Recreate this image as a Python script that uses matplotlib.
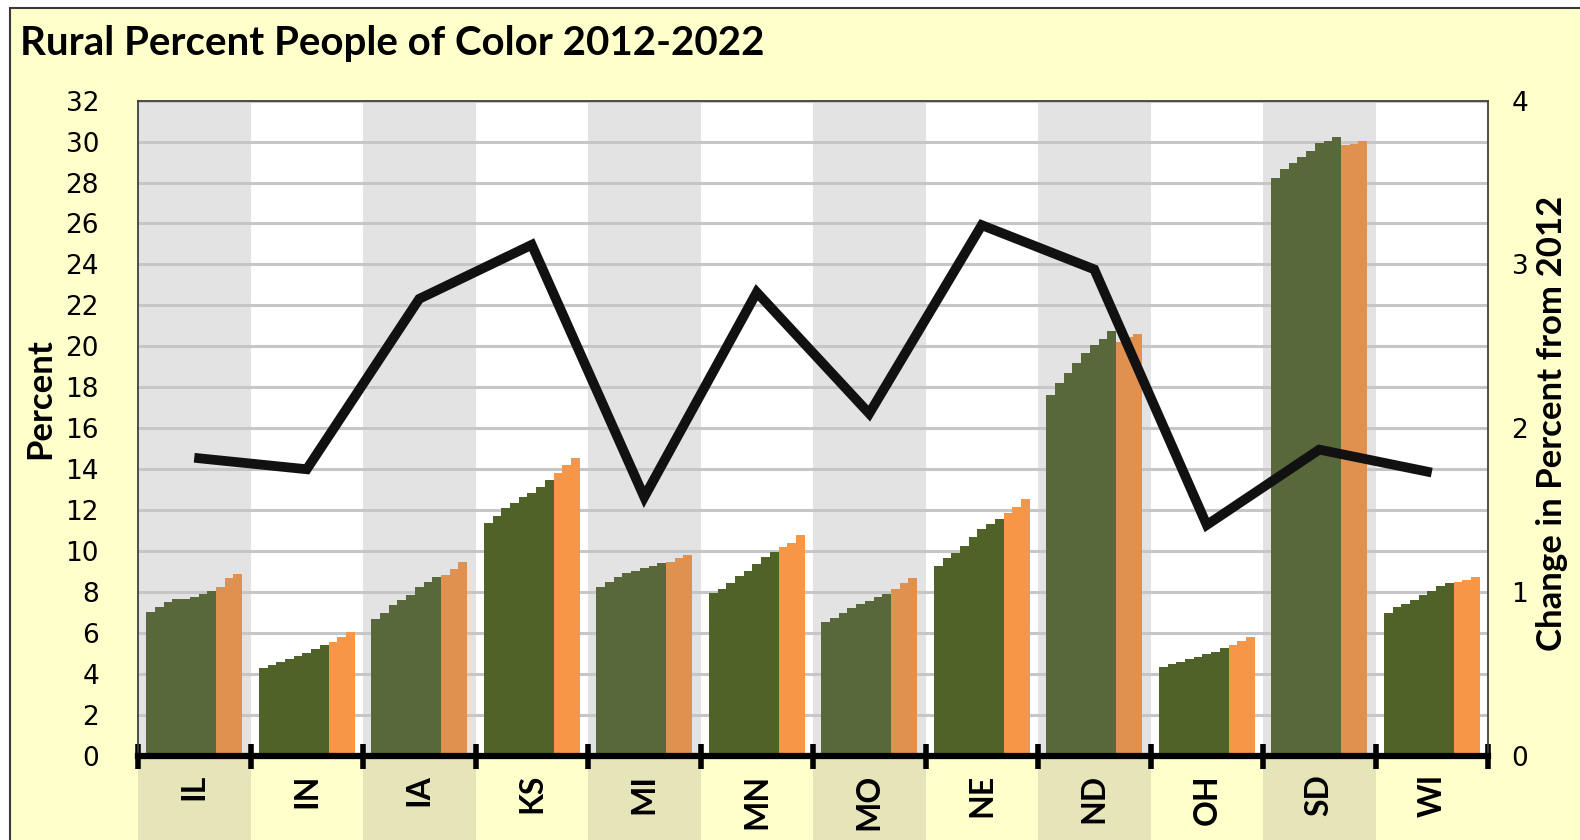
import matplotlib
matplotlib.use("Agg")
import matplotlib.pyplot as plt
import matplotlib.transforms as mtransforms
from matplotlib.patches import Rectangle
import numpy as np

# ---------------- data ----------------
states = ["IL", "IN", "IA", "KS", "MI", "MN", "MO", "NE", "ND", "OH", "SD", "WI"]
years = list(range(2012, 2023))
first_covid_year = 2020  # bars from this year on are orange

IL = [7.05, 7.29, 7.53, 7.65, 7.65, 7.78, 7.91, 8.07, 8.27, 8.68, 8.87]
IN = [4.31, 4.46, 4.61, 4.73, 4.86, 5.04, 5.21, 5.42, 5.58, 5.80, 6.03]
IA = [6.67, 7.00, 7.37, 7.62, 7.86, 8.24, 8.51, 8.75, 8.84, 9.12, 9.49]
KS = [11.39, 11.72, 12.09, 12.37, 12.63, 12.86, 13.12, 13.48, 13.83, 14.21, 14.54]
MI = [8.27, 8.51, 8.75, 8.92, 9.05, 9.17, 9.28, 9.41, 9.49, 9.65, 9.81]
MN = [7.97, 8.14, 8.46, 8.79, 9.05, 9.38, 9.73, 9.98, 10.19, 10.42, 10.79]
MO = [6.56, 6.75, 7.00, 7.21, 7.41, 7.57, 7.75, 7.91, 8.14, 8.43, 8.68]
NE = [9.28, 9.65, 9.93, 10.25, 10.71, 11.07, 11.33, 11.59, 11.85, 12.17, 12.53]
ND = [17.63, 18.23, 18.69, 19.17, 19.69, 20.07, 20.36, 20.77, 20.23, 20.44, 20.59]
OH = [4.36, 4.49, 4.60, 4.72, 4.85, 4.98, 5.09, 5.26, 5.42, 5.63, 5.80]
SD = [28.21, 28.65, 28.94, 29.23, 29.56, 29.92, 30.04, 30.24, 29.83, 29.88, 30.04]
WI = [7.00, 7.26, 7.42, 7.62, 7.86, 8.07, 8.30, 8.43, 8.51, 8.59, 8.75]

change_from_2012 = [1.82, 1.75, 2.79, 3.12, 1.58, 2.83, 2.09, 3.24, 2.97, 1.41, 1.87, 1.73]

pct_table = [IL, IN, IA, KS, MI, MN, MO, NE, ND, OH, SD, WI]

# ---------------- styling ----------------
W, H = 1580, 840
BG_YELLOW = "#ffffcc"
BAND_GREY = "#e3e3e3"
LABEL_TAN = "#e6e4b9"
GREEN = "#4f6228"
GREEN_SHADED = "#58683b"
ORANGE = "#f79646"
ORANGE_SHADED = "#e0914f"
TITLE_FONT = ["Lato", "DejaVu Sans"]
NUM_FONT = ["DejaVu Sans"]

fig = plt.figure(figsize=(W / 100, H / 100), dpi=100, facecolor="white")
fig.patches.append(Rectangle((10 / W, -0.01), 1.0, 1 - 8 / H + 0.01,
                             transform=fig.transFigure, facecolor=BG_YELLOW,
                             edgecolor="#3a3a3a", lw=1.5, zorder=-10))

ax_left, ax_right, ax_bottom, ax_top = 138, 1488, 756, 100.6
ax = fig.add_axes([ax_left / W, 1 - ax_bottom / H,
                   (ax_right - ax_left) / W, (ax_bottom - ax_top) / H])
ax.set_facecolor("white")
ax.set_xlim(-0.5, len(states) - 0.5)
ax.set_ylim(0, 32)

n_years = len(years)
bar_w = 0.0774
for i, vals in enumerate(pct_table):
    shaded = (i % 2 == 0)
    if shaded:
        ax.axvspan(i - 0.5, i + 0.5, color=BAND_GREY, lw=0, zorder=0.1)
    xs = [i + (j - (n_years - 1) / 2) * bar_w for j in range(n_years)]
    cols = []
    for y in years:
        if y >= first_covid_year:
            cols.append(ORANGE_SHADED if shaded else ORANGE)
        else:
            cols.append(GREEN_SHADED if shaded else GREEN)
    ax.bar(xs, vals, width=bar_w, color=cols, linewidth=0, zorder=2)

# label bands below the axis
trans = mtransforms.blended_transform_factory(ax.transData, ax.transAxes)
for i in range(len(states)):
    ax.add_patch(Rectangle((i - 0.5, -0.2), 1, 0.2, transform=trans,
                           facecolor=LABEL_TAN if i % 2 == 0 else BG_YELLOW,
                           lw=0, clip_on=False, zorder=0.05))

ax.set_yticks(range(0, 33, 2))
ax.grid(axis="y", color="#c6c6c6", lw=2.2)
ax.set_axisbelow(True)

for s in ["left", "top", "right"]:
    ax.spines[s].set_color("#404040")
    ax.spines[s].set_linewidth(1.3)
ax.spines["bottom"].set_color("black")
ax.spines["bottom"].set_linewidth(4.5)

ax.set_xticks(np.arange(-0.5, len(states), 1))
ax.tick_params(axis="x", which="major", direction="inout", length=18, width=4,
               color="black", labelbottom=False)
ax.set_xticks(range(len(states)), minor=True)
ax.set_xticklabels(states, minor=True, rotation=90, fontweight="bold",
                   fontsize=23, family=TITLE_FONT)
ax.tick_params(axis="x", which="minor", length=0, pad=13)
ax.tick_params(axis="y", length=0, pad=28, labelsize=19)
for lab in ax.get_yticklabels():
    lab.set_family(NUM_FONT)

ax2 = ax.twinx()
ax2.set_ylim(0, 4)
ax2.set_yticks(range(0, 5))
ax2.tick_params(axis="y", length=0, pad=17, labelsize=19)
for lab in ax2.get_yticklabels():
    lab.set_family(NUM_FONT)
for s in ax2.spines.values():
    s.set_visible(False)
ax2.plot(range(len(states)), change_from_2012, color="#111111", lw=7,
         solid_joinstyle="miter", solid_capstyle="butt", zorder=5)

fig.text(20 / W, 1 - 44 / H, "Rural Percent People of Color 2012-2022",
         ha="left", va="center", fontsize=29, fontweight="bold", family=TITLE_FONT)
fig.text(40 / W, 1 - 399 / H, "Percent", rotation=90, ha="center", va="center",
         fontsize=25, fontweight="bold", family=TITLE_FONT)
fig.text(1552 / W, 1 - 423 / H, "Change in Percent from 2012", rotation=90,
         ha="center", va="center", fontsize=25, fontweight="bold", family=TITLE_FONT)

fig.savefig("out.png", dpi=100, facecolor=fig.get_facecolor())
